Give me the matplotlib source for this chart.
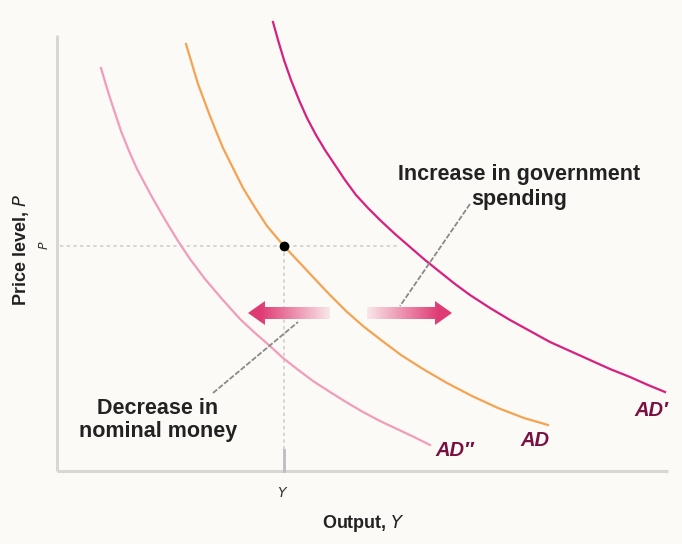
import numpy as np
import matplotlib
matplotlib.use("Agg")
import matplotlib.pyplot as plt
from matplotlib.patches import Polygon

# ---- data (in plot units: x right, y down) ----
ad2_x = [101, 106, 111, 116, 121, 129, 137, 145, 152, 160, 167, 178, 190, 205, 222,
         240, 255, 270, 283, 297, 313, 330, 346, 363, 380, 397, 414, 430]
ad2_y = [68, 85, 101, 116, 131, 151, 169, 184, 197, 211, 223, 241, 259, 279, 299,
         319, 333, 346, 358, 369, 381, 392, 402, 412, 421, 429, 437, 445]

ad_x = [186, 192, 198, 204, 210, 216, 223, 232, 243, 254, 267, 283, 298, 313, 329,
        346, 363, 381, 401, 423, 447, 472, 498, 524, 548]
ad_y = [44, 64, 84, 100, 116, 131, 148, 166, 188, 206, 226, 245, 261, 277, 294,
        311, 326, 340, 355, 369, 383, 396, 408, 418, 425]

ad1_x = [273, 278, 284, 291, 299, 307, 316, 325, 335, 345, 356, 368, 380, 395, 410,
         425, 440, 455, 470, 490, 510, 530, 550, 570, 590, 610, 630, 648, 665]
ad1_y = [22, 40, 60, 80, 100, 118, 135, 150, 165, 180, 195, 208, 220, 234, 247,
         260, 272, 284, 295, 308, 320, 331, 342, 351, 360, 369, 377, 385, 392]

eq_point = (284, 246)
curve_labels = ["AD\u2033", "AD", "AD\u2032"]

BG = "#fcfaf6"
fig = plt.figure(figsize=(6.82, 5.44), dpi=100, facecolor=BG)
ax = fig.add_axes([0, 0, 1, 1])
ax.set_facecolor(BG)
ax.set_xlim(0, 682)
ax.set_ylim(544, 0)
ax.axis("off")

# axes
ax.plot([57, 57], [35, 471], color="#d9d7d4", lw=2.2, solid_capstyle="butt")
ax.plot([57, 668], [471, 471], color="#d9d7d4", lw=2.2, solid_capstyle="butt")

# guide lines
ax.plot([60, 400], [eq_point[1], eq_point[1]], color="#cfcfcf", lw=1.2, ls=(0, (2, 2)))
ax.plot([eq_point[0], eq_point[0]], [eq_point[1], 450], color="#cfcfcf", lw=1.2, ls=(0, (2, 2)))
ax.plot([eq_point[0], eq_point[0]], [450, 471], color="#bdbdbd", lw=2)

# curves
ax.plot(ad2_x, ad2_y, color="#f29cbc", lw=1.6, solid_joinstyle="round")
ax.plot(ad_x, ad_y, color="#f5a352", lw=1.6, solid_joinstyle="round")
ax.plot(ad1_x, ad1_y, color="#d7207f", lw=1.6, solid_joinstyle="round")

ax.scatter([eq_point[0]], [eq_point[1]], s=36, color="black", zorder=5)

# leader lines
ax.plot([470, 400], [204, 306], color="#8a8a8a", lw=1.3, ls=(0, (3, 1)))
ax.plot([213, 298], [393, 322], color="#8a8a8a", lw=1.3, ls=(0, (3, 1)))

# gradient arrows
def grad_arrow(tip, tail, yc, head_len=17, head_half=12, shaft_half=6):
    d = 1 if tail > tip else -1
    base = tip + d * head_len
    pts = [(tip, yc), (base, yc - head_half), (base, yc - shaft_half),
           (tail, yc - shaft_half), (tail, yc + shaft_half), (base, yc + shaft_half),
           (base, yc + head_half)]
    poly = Polygon(pts, closed=True, facecolor="none", edgecolor="none")
    ax.add_patch(poly)
    x0, x1 = min(tip, tail), max(tip, tail)
    n = 200
    xs = np.linspace(x0, x1, n)
    frac = np.abs(xs - tip) / abs(tail - tip)
    a = np.clip(1.0 - 0.9 * np.clip((frac - 0.15) / 0.85, 0, 1), 0, 1)
    col = np.array(matplotlib.colors.to_rgb("#df3a74"))
    bg = np.array(matplotlib.colors.to_rgb(BG))
    img = np.zeros((2, n, 3))
    for i in range(n):
        img[:, i, :] = col * a[i] + bg * (1 - a[i])
    im = ax.imshow(img, extent=[x0, x1, yc + head_half, yc - head_half],
                   aspect="auto", interpolation="bilinear", zorder=4)
    im.set_clip_path(poly)

grad_arrow(248, 330, 313)
grad_arrow(452, 367, 313)

# texts
ax.text(21, 250, "Price level, $\\mathit{P}$", rotation=90, ha="center", va="center",
        fontsize=13, fontweight="bold", family="Liberation Sans", color="#222222")
ax.text(44, 245, "$P$", rotation=90, ha="center", va="center", fontsize=9,
        color="#333333")
ax.text(283, 493, "$\\mathit{Y}$", ha="center", va="center", fontsize=10, color="#333333")
ax.text(364, 523, "Output, $\\mathit{Y}$", ha="center", va="center",
        fontsize=13, fontweight="bold", family="Liberation Sans", color="#222222")

ax.text(519, 187, "Increase in government\nspending", ha="center", va="center",
        fontsize=15.5, fontweight="bold", family="Liberation Sans", color="#222222",
        linespacing=1.2)
ax.text(158, 420, "Decrease in\nnominal money", ha="center", va="center",
        fontsize=15.5, fontweight="bold", family="Liberation Sans", color="#222222",
        linespacing=1.1)

lab_col = "#7a1040"
ax.text(455, 450, curve_labels[0], ha="center", va="center", fontsize=14.5,
        fontweight="bold", style="italic", family="Liberation Sans", color=lab_col)
ax.text(535, 440, curve_labels[1], ha="center", va="center", fontsize=14.5,
        fontweight="bold", style="italic", family="Liberation Sans", color=lab_col)
ax.text(651, 410, curve_labels[2], ha="center", va="center", fontsize=14.5,
        fontweight="bold", style="italic", family="Liberation Sans", color=lab_col)

fig.savefig("out.png", dpi=100, facecolor=BG)
